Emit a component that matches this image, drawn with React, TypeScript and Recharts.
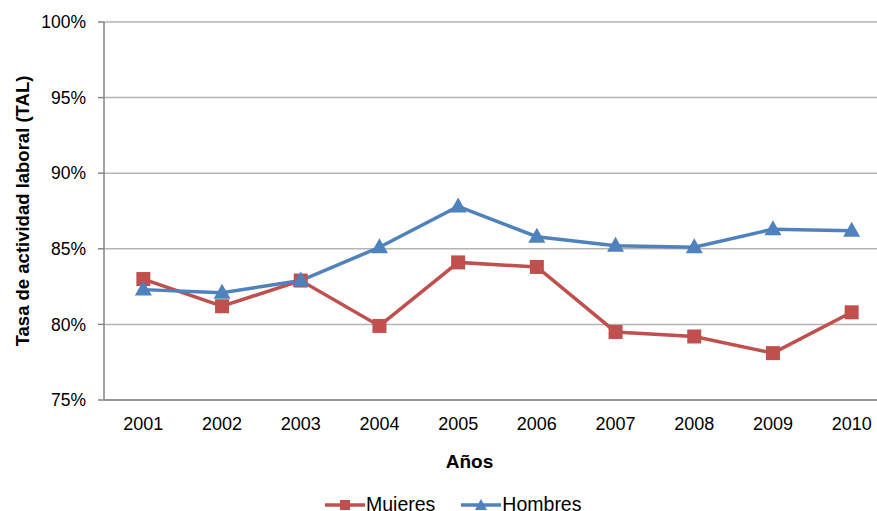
import React from 'react';
import { LineChart, Line, XAxis, YAxis, CartesianGrid, Legend } from 'recharts';

// Labour participation rate by sex, 2001–2010 (percent)
const years = [2001, 2002, 2003, 2004, 2005, 2006, 2007, 2008, 2009, 2010];
const mujeres = [83.0, 81.2, 82.9, 79.9, 84.1, 83.8, 79.5, 79.2, 78.1, 80.8];
const hombres = [82.3, 82.1, 82.9, 85.1, 87.8, 85.8, 85.2, 85.1, 86.3, 86.2];
const yTicks = [75, 80, 85, 90, 95, 100];

const RED = '#C0504D';
const BLUE = '#4F81BD';
const AXIS = '#868686';
const GRID = '#B4B4B4';
const FONT = '"Liberation Sans", Arial, sans-serif';

const data = years.map((year, i) => ({ year, Mujeres: mujeres[i], Hombres: hombres[i] }));
// category boundaries, where the tick marks of the x axis sit
const bandEdges = [...years.map((y) => y - 0.5), years[years.length - 1] + 0.5];

const SquareDot = (props: any) => {
  const { cx, cy, index } = props;
  if (cx == null || cy == null) return null;
  return <rect key={`sq-${index}`} x={cx - 7} y={cy - 7} width={14} height={14} fill={RED} />;
};

const TriangleDot = (props: any) => {
  const { cx, cy, index } = props;
  if (cx == null || cy == null) return null;
  return (
    <polygon
      key={`tri-${index}`}
      points={`${cx},${cy - 9} ${cx + 8.5},${cy + 6} ${cx - 8.5},${cy + 6}`}
      fill={BLUE}
    />
  );
};

const LegendContent = () => {
  const item = (name: string, color: string, marker: React.ReactNode) => (
    <div style={{ display: 'flex', alignItems: 'center', marginRight: 26 }}>
      <svg width={40} height={16} style={{ display: 'block' }}>
        <line x1={0} y1={8} x2={40} y2={8} stroke={color} strokeWidth={3.5} />
        {marker}
      </svg>
      <span style={{ fontSize: 19.5, color: '#000', fontFamily: FONT, marginLeft: 1 }}>{name}</span>
    </div>
  );
  return (
    <div style={{ display: 'flex', alignItems: 'center' }}>
      {item('Mujeres', RED, <rect x={15} y={3} width={10} height={10} fill={RED} />)}
      {item('Hombres', BLUE, <polygon points="20,2 26,13 14,13" fill={BLUE} />)}
    </div>
  );
};

const XTitle = (props: any) => {
  const { viewBox } = props;
  return (
    <text
      x={viewBox.x + viewBox.width / 2 - 28}
      y={viewBox.y + 68}
      textAnchor="middle"
      fontFamily={FONT}
      fontSize={19}
      fontWeight="bold"
      fill="#000"
    >
      Años
    </text>
  );
};

const YTitle = (props: any) => {
  const { viewBox } = props;
  const x = viewBox.x + 22;
  const y = viewBox.y + viewBox.height / 2;
  return (
    <text
      x={x}
      y={y}
      transform={`rotate(-90, ${x}, ${y})`}
      textAnchor="middle"
      dominantBaseline="central"
      fontFamily={FONT}
      fontSize={18.5}
      fontWeight="bold"
      fill="#000"
    >
      Tasa de actividad laboral (TAL)
    </text>
  );
};

export default function App() {
  return (
    <div
      style={{
        position: 'fixed',
        left: 0,
        top: 0,
        width: 877,
        height: 511,
        overflow: 'hidden',
        background: '#fff',
      }}
    >
      <LineChart
        width={900}
        height={511}
        data={data}
        margin={{ top: 22, right: 9, left: 0, bottom: 41 }}
        style={{ fontFamily: FONT }}
      >
        <CartesianGrid vertical={false} stroke={GRID} strokeWidth={1.5} />
        <XAxis
          xAxisId="edges"
          dataKey="year"
          type="number"
          domain={[bandEdges[0], bandEdges[bandEdges.length - 1]]}
          ticks={bandEdges}
          tickFormatter={() => ''}
          tickSize={5}
          tickLine={{ stroke: AXIS, strokeWidth: 1.5 }}
          axisLine={false}
          height={0}
          allowDataOverflow
        />
        <XAxis
          dataKey="year"
          type="number"
          domain={[bandEdges[0], bandEdges[bandEdges.length - 1]]}
          ticks={years}
          tickLine={false}
          tickSize={6}
          tickMargin={11}
          axisLine={{ stroke: AXIS, strokeWidth: 1.5 }}
          tick={{ fill: '#000', fontSize: 18 }}
          height={70}
          allowDataOverflow
          label={<XTitle />}
        />
        <YAxis
          width={104}
          domain={[75, 100]}
          ticks={yTicks}
          tickFormatter={(v: number) => `${v}%`}
          tickSize={6}
          tickMargin={12}
          tickLine={{ stroke: AXIS, strokeWidth: 1.5 }}
          axisLine={{ stroke: AXIS, strokeWidth: 1.5 }}
          tick={{ fill: '#000', fontSize: 17.5 }}
          allowDataOverflow
          label={<YTitle />}
        />
        <Legend
          layout="horizontal"
          verticalAlign="middle"
          align="center"
          content={<LegendContent />}
          wrapperStyle={{ top: 493, left: 325, width: 400, height: 24 }}
        />
        <Line
          type="linear"
          dataKey="Mujeres"
          stroke={RED}
          strokeWidth={3.5}
          dot={SquareDot}
          activeDot={false}
          isAnimationActive={false}
        />
        <Line
          type="linear"
          dataKey="Hombres"
          stroke={BLUE}
          strokeWidth={3.5}
          dot={TriangleDot}
          activeDot={false}
          isAnimationActive={false}
        />
      </LineChart>
    </div>
  );
}
